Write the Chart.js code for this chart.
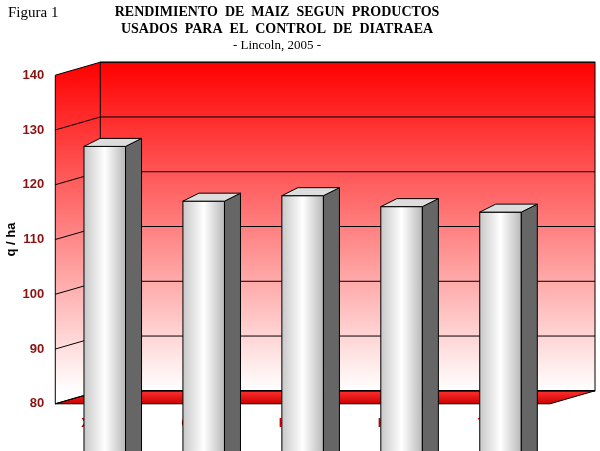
<!DOCTYPE html>
<html lang="en">
<head>
<meta charset="UTF-8">
<script src="https://cdn.jsdelivr.net/npm/chart.js"></script>
<style>body{margin:0;background:#fff}#wrap{width:600px;height:451px}</style>
</head>
<body>
<div id="wrap"><canvas id="c"></canvas></div>
<script>
const categories = [['Xilonen'], ['Ciperm', 'c/Ac'], ['K. Zeon', 'c/Ac'], ['K. Zeon', 's/Ac'], ['Testigo']];
const yields = [127, 117, 118, 116, 115];
const yTicks = [80, 90, 100, 110, 120, 130, 140];

const DX = 45, DY = 13, SX = 16, SY = 8;

const box3d = {
  id: 'box3d',
  beforeDatasetsDraw(chart) {
    const {ctx, chartArea: a, scales: {y}} = chart;
    ctx.save();
    // back wall
    let g = ctx.createLinearGradient(0, a.top - DY, 0, a.bottom - DY);
    g.addColorStop(0, '#ff0000'); g.addColorStop(1, '#ffffff');
    ctx.fillStyle = g;
    ctx.fillRect(a.left + DX, a.top - DY, a.right - a.left, a.bottom - a.top);
    // left wall
    ctx.beginPath();
    ctx.moveTo(a.left, a.top); ctx.lineTo(a.left + DX, a.top - DY);
    ctx.lineTo(a.left + DX, a.bottom - DY); ctx.lineTo(a.left, a.bottom); ctx.closePath();
    ctx.fill();
    // floor
    g = ctx.createLinearGradient(0, a.bottom - DY, 0, a.bottom);
    g.addColorStop(0, '#ff3030'); g.addColorStop(1, '#cc0000');
    ctx.fillStyle = g;
    ctx.beginPath();
    ctx.moveTo(a.left, a.bottom); ctx.lineTo(a.left + DX, a.bottom - DY);
    ctx.lineTo(a.right + DX, a.bottom - DY); ctx.lineTo(a.right, a.bottom); ctx.closePath();
    ctx.fill();
    ctx.strokeStyle = '#000'; ctx.lineWidth = 1;
    ctx.stroke();
    // grid lines
    yTicks.forEach(v => {
      const py = y.getPixelForValue(v);
      ctx.beginPath();
      ctx.moveTo(a.left, py); ctx.lineTo(a.left + DX, py - DY); ctx.lineTo(a.right + DX, py - DY);
      ctx.stroke();
    });
    ctx.strokeRect(a.left + DX, a.top - DY, a.right - a.left, a.bottom - a.top);
    ctx.beginPath();
    ctx.moveTo(a.left, a.top); ctx.lineTo(a.left, a.bottom); ctx.stroke();
    ctx.restore();
  },
  afterDatasetsDraw(chart) {
    const {ctx} = chart;
    ctx.save();
    chart.getDatasetMeta(0).data.forEach(bar => {
      const r = bar.x + bar.width / 2, l = bar.x - bar.width / 2, t = bar.y, b = bar.base;
      // front face shading
      const g = ctx.createLinearGradient(l, 0, r, 0);
      g.addColorStop(0, '#c8c8c8'); g.addColorStop(0.5, '#ffffff'); g.addColorStop(1, '#b8b8b8');
      ctx.fillStyle = g;
      ctx.fillRect(l, t, r - l, b - t);
      ctx.strokeStyle = '#000';
      ctx.strokeRect(l, t, r - l, b - t);
      ctx.fillStyle = '#666';
      ctx.beginPath();
      ctx.moveTo(r, t); ctx.lineTo(r + SX, t - SY); ctx.lineTo(r + SX, b - SY); ctx.lineTo(r, b); ctx.closePath();
      ctx.fill(); ctx.stroke();
      ctx.fillStyle = '#ddd';
      ctx.beginPath();
      ctx.moveTo(l, t); ctx.lineTo(l + SX, t - SY); ctx.lineTo(r + SX, t - SY); ctx.lineTo(r, t); ctx.closePath();
      ctx.fill(); ctx.stroke();
    });
    ctx.fillStyle = '#000';
    ctx.font = '15px "Liberation Serif"';
    ctx.textAlign = 'left'; ctx.textBaseline = 'top';
    ctx.fillText('Figura 1', 8, 6);
    ctx.restore();
  }
};

new Chart(document.getElementById('c'), {
  type: 'bar',
  data: {
    labels: categories,
    datasets: [{
      data: yields,
      backgroundColor: '#eeeeee',
      borderColor: '#000',
      borderWidth: 1,
      borderSkipped: false,
      barPercentage: 0.42,
      categoryPercentage: 1
    }]
  },
  options: {
    responsive: true,
    maintainAspectRatio: false,
    animation: false,
    layout: {padding: {top: 4, right: 50, left: 4}},
    plugins: {
      legend: {display: false},
      tooltip: {enabled: false},
      title: {
        display: true,
        text: ['RENDIMIENTO  DE  MAIZ  SEGUN  PRODUCTOS', 'USADOS  PARA  EL  CONTROL  DE  DIATRAEA'],
        font: {family: 'Liberation Serif', size: 14, weight: 'bold'},
        color: '#000',
        padding: {top: 0, bottom: 0}
      },
      subtitle: {
        display: true,
        text: '- Lincoln, 2005 -',
        font: {family: 'Liberation Serif', size: 13},
        color: '#000',
        padding: {top: 0, bottom: 22}
      }
    },
    scales: {
      x: {
        grid: {display: false},
        border: {display: false},
        ticks: {color: '#cc0000', font: {family: 'Liberation Sans', size: 13, weight: 'bold'}, padding: 4}
      },
      y: {
        min: 80, max: 140,
        afterBuildTicks(s) { s.ticks = yTicks.map(v => ({value: v})); },
        grid: {display: false},
        border: {display: false},
        ticks: {color: '#8b1010', font: {family: 'Liberation Sans', size: 13, weight: 'bold'}},
        title: {display: true, text: 'q / ha', color: '#000', font: {family: 'Liberation Sans', size: 13, weight: 'bold'}, padding: 0}
      }
    }
  },
  plugins: [box3d]
});
</script>
</body>
</html>
